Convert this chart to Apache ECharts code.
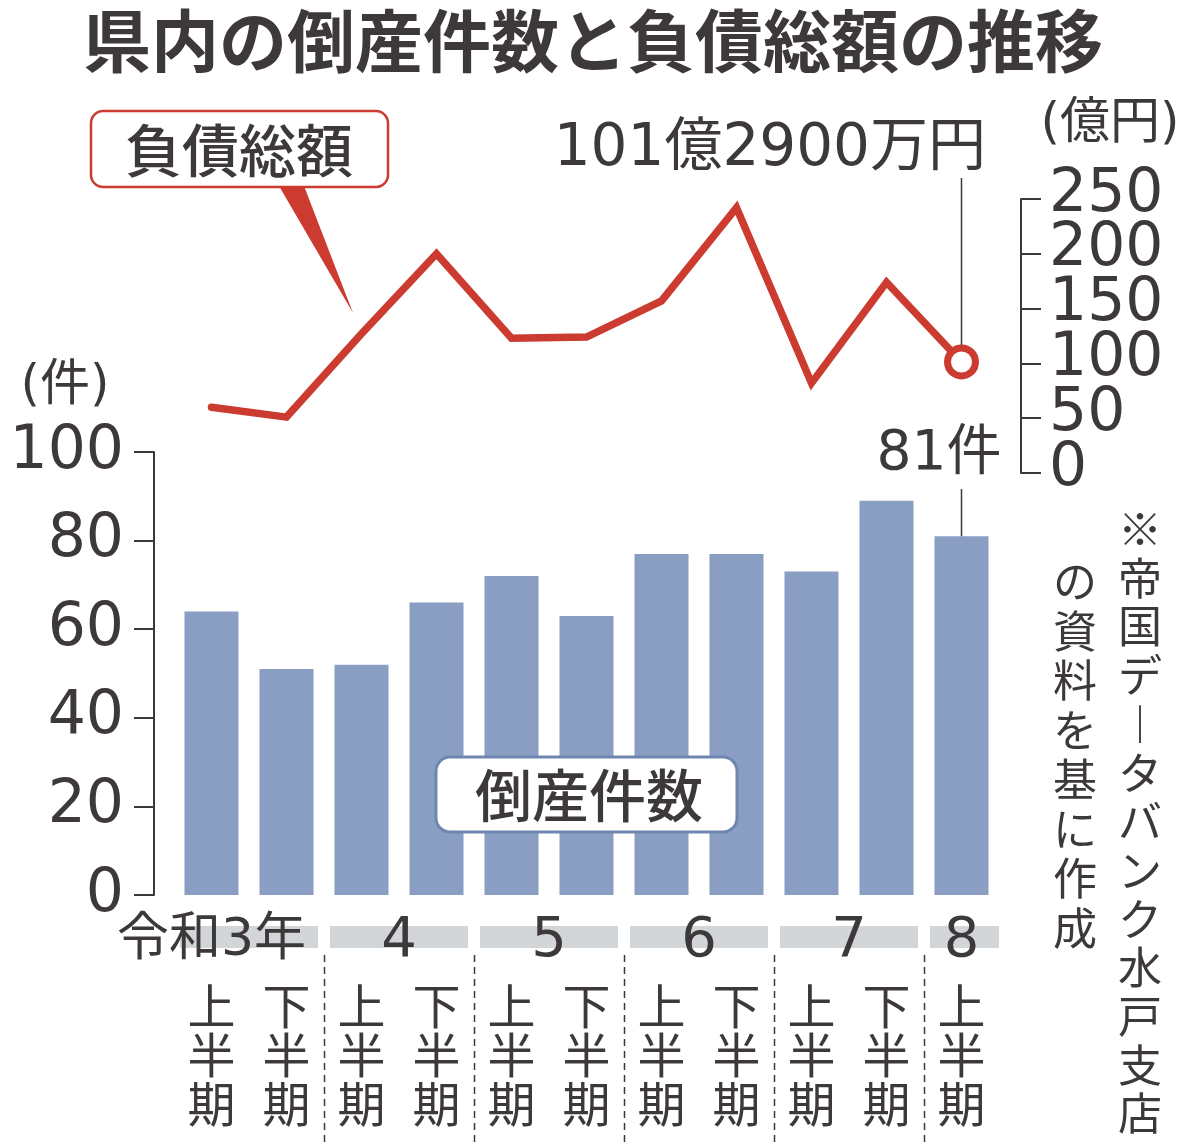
<!DOCTYPE html>
<html lang="ja">
<head>
<meta charset="UTF-8">
<title>県内の倒産件数と負債総額の推移</title>
<script src="https://cdn.jsdelivr.net/npm/echarts@6/dist/echarts.min.js"></script>
<style>
  html, body { margin: 0; padding: 0; background: #fff; }
  #main { width: 1200px; height: 1142px; }
</style>
</head>
<body>
<div id="main"></div>
<script>
// 半期ごとのデータ（令和3年上半期〜8年上半期）
var halves = ['上半期', '下半期', '上半期', '下半期', '上半期', '下半期',
              '上半期', '下半期', '上半期', '下半期', '上半期'];
var years = ['令和3年', '4', '5', '6', '7', '8'];
var yearStart = [0, 2, 4, 6, 8, 10];   // 各年の最初のカテゴリ
var counts = [64, 51, 52, 66, 72, 63, 77, 77, 73, 89, 81];              // 倒産件数（件）
var debts = [60, 51, 127, 200, 123, 124, 157, 242, 82, 174, 101.29];    // 負債総額（億円）
var countTicks = [0, 20, 40, 60, 80, 100];
var debtTicks = [0, 50, 100, 150, 200, 250];

var TXT = '#3d3839';
var RED = '#cc3b2f';
var BAR = '#8a9ec3';
var JP = '"Noto Sans CJK JP", sans-serif';
var NUM = '"DejaVu Sans", "Noto Sans CJK JP", sans-serif';

var chart = echarts.init(document.getElementById('main'));
var last = counts.length - 1;

var axisTk = { show: true, interval: 0, length: 20, lineStyle: { color: TXT, width: 2 } };

var option = {
  animation: false,
  grid: [
    { left: 174, right: 201, top: 452, height: 443 },
    { left: 174, right: 201, top: 199, height: 274 }
  ],
  xAxis: [
    {
      gridIndex: 0, type: 'category', data: halves,
      axisLine: { show: false }, axisTick: { show: false },
      axisLabel: {
        interval: 0, margin: 86, fontSize: 48, lineHeight: 49,
        color: TXT, fontFamily: JP,
        formatter: function (v) { return v.split('').join('\n'); }
      }
    },
    { gridIndex: 1, type: 'category', data: halves, show: false }
  ],
  yAxis: [
    {
      gridIndex: 0, type: 'value',
      min: countTicks[0], max: countTicks[countTicks.length - 1],
      interval: countTicks[1] - countTicks[0],
      offset: 20,
      splitLine: { show: false },
      axisLine: { show: true, lineStyle: { color: TXT, width: 2 } },
      axisTick: axisTk,
      axisLabel: {
        fontSize: 60, margin: 30, color: TXT, fontFamily: NUM,
        showMinLabel: true, showMaxLabel: true
      }
    },
    {
      // 目盛り間隔より文字が大きく自動で間引かれるので、ラベルは下で描く
      gridIndex: 1, type: 'value', position: 'right',
      min: debtTicks[0], max: debtTicks[debtTicks.length - 1],
      interval: debtTicks[1] - debtTicks[0],
      offset: 22,
      splitLine: { show: false },
      axisLine: { show: true, lineStyle: { color: TXT, width: 2 } },
      axisTick: axisTk,
      axisLabel: { show: false }
    }
  ],
  series: [
    {
      name: '倒産件数', type: 'bar', xAxisIndex: 0, yAxisIndex: 0,
      data: counts, barWidth: 54, itemStyle: { color: BAR }
    },
    {
      name: '負債総額', type: 'line', xAxisIndex: 1, yAxisIndex: 1, z: 5,
      symbol: 'none',
      lineStyle: { color: RED, width: 7.5, join: 'miter', cap: 'round' },
      data: debts.map(function (v, i) {
        if (i !== last) return v;
        return {
          value: v, symbol: 'circle', symbolSize: 28,
          itemStyle: { color: '#fff', borderColor: RED, borderWidth: 7 }
        };
      })
    }
  ]
};
chart.setOption(option);

// 注記類は軸の座標から位置を出す
function cx(i) { return chart.convertToPixel({ xAxisIndex: 0 }, i); }
var band = cx(1) - cx(0);
var plotRight = cx(last) + band / 2;
var endPt = chart.convertToPixel({ seriesIndex: 1 }, [last, debts[last]]);
var barTop = chart.convertToPixel({ seriesIndex: 0 }, [last, counts[last]]);

var g = [];
function txt(s, x, y, font, align, vAlign, extra) {
  var st = { text: s, fill: TXT, font: font, align: align || 'center', verticalAlign: vAlign || 'middle' };
  if (extra) for (var k in extra) st[k] = extra[k];
  g.push({ type: 'text', x: x, y: y, z: 100, style: st });
}

// 右軸の目盛りラベル
debtTicks.forEach(function (v) {
  var py = chart.convertToPixel({ yAxisIndex: 1 }, v);
  txt(String(v), plotRight + 22 + 28, py - 4, '60px ' + NUM, 'left');
});

// タイトル
txt('県内の倒産件数と負債総額の推移', 593, 41, 'bold 68px ' + JP);

// 負債総額の吹き出し
g.push({ type: 'polygon', z: 90, shape: { points: [[279, 186], [304, 186], [353, 313]] }, style: { fill: RED } });
g.push({ type: 'rect', z: 91, shape: { x: 91, y: 111, width: 297, height: 76, r: 12 },
  style: { fill: '#fff', stroke: RED, lineWidth: 2.5 } });
txt('負債総額', 239, 150, '500 57px ' + JP);

// 倒産件数のラベル
g.push({ type: 'rect', z: 91, shape: { x: 436, y: 757, width: 301, height: 75, r: 14 },
  style: { fill: '#fff', stroke: '#6f87b0', lineWidth: 3 } });
txt('倒産件数', 589, 795, '500 57px ' + JP);

// 単位
txt('(件)', 65, 387, '50px ' + NUM);
txt('(億円)', 1110, 125, '50px ' + NUM);

// 最新値の注記
txt('101億2900万円', 986, 150, '58px ' + NUM, 'right');
g.push({ type: 'line', z: 80, shape: { x1: endPt[0], y1: 178, x2: endPt[0], y2: endPt[1] - 17 },
  style: { stroke: TXT, lineWidth: 1.5 } });
txt('81件', 939, 455, '55px ' + NUM);
g.push({ type: 'line', z: 80, shape: { x1: barTop[0], y1: 489, x2: barTop[0], y2: barTop[1] },
  style: { stroke: TXT, lineWidth: 1.5 } });

// 年の帯と区切り
years.forEach(function (y, k) {
  var s = yearStart[k];
  var e = k + 1 < years.length ? yearStart[k + 1] - 1 : halves.length - 1;
  var x0 = cx(s) - band / 2 + 6;
  var x1 = cx(e) + band / 2 - (k + 1 < years.length ? 6 : 0);
  g.push({ type: 'rect', z: 50, shape: { x: x0, y: 926, width: x1 - x0, height: 22 }, style: { fill: '#d2d6d9' } });
  if (k === 0) {
    txt(y, cx(e) + band / 2 - 18, 941, '52px ' + NUM, 'right');
  } else {
    txt(y, (cx(s) + cx(e)) / 2, 941, '56px ' + NUM);
    var bx = Math.round(cx(s) - band / 2) + 0.5;
    g.push({ type: 'line', z: 50, shape: { x1: bx, y1: 955, x2: bx, y2: 1142 },
      style: { stroke: TXT, lineWidth: 1.5, lineDash: [7, 5] } });
  }
});

// 出典（縦書き）
var note1 = ['※', '帝', '国', 'デ', '︱', 'タ', 'バ', 'ン', 'ク', '水', '戸', '支', '店'];
var note2 = ['の', '資', '料', 'を', '基', 'に', '作', '成'];
txt(note1.join('\n'), 1140, 505, '44px ' + JP, 'center', 'top', { lineHeight: 48.7 });
txt(note2.join('\n'), 1075, 557, '44px ' + JP, 'center', 'top', { lineHeight: 49.5 });

chart.setOption({ graphic: { elements: g } });
</script>
</body>
</html>
